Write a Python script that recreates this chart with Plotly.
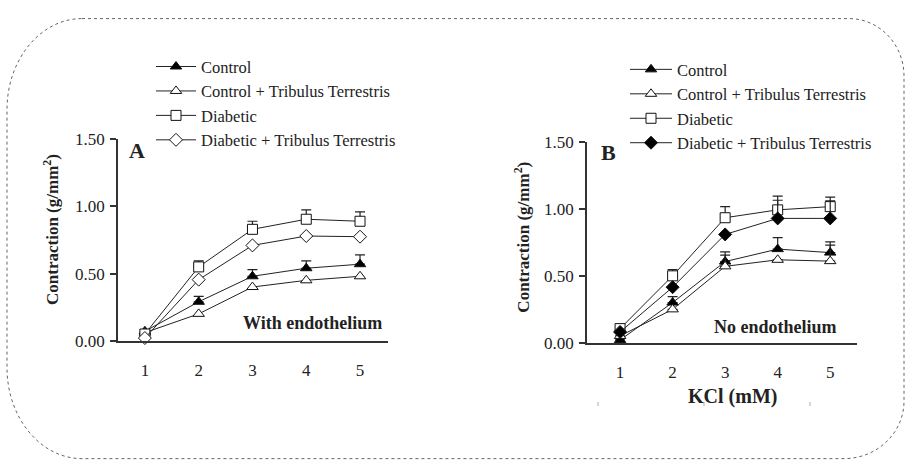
import plotly.graph_objects as go

W, H = 905, 460
FONT = "Liberation Serif"

# ---------------- data ----------------
kcl = [1, 2, 3, 4, 5]
series_names = ["Control", "Control + Tribulus Terrestris", "Diabetic", "Diabetic + Tribulus Terrestris"]

# Panel A: with endothelium
a_control = [0.07, 0.29, 0.48, 0.54, 0.57]
a_control_err = [0.0, 0.04, 0.05, 0.055, 0.07]
a_control_tt = [0.06, 0.20, 0.40, 0.45, 0.48]
a_diabetic = [0.05, 0.55, 0.83, 0.905, 0.89]
a_diabetic_err = [0.0, 0.045, 0.06, 0.07, 0.07]
a_diabetic_tt = [0.02, 0.455, 0.71, 0.78, 0.775]

# Panel B: no endothelium
b_control = [0.02, 0.30, 0.607, 0.70, 0.674]
b_control_err = [0.0, 0.045, 0.072, 0.086, 0.08]
b_control_tt = [0.05, 0.249, 0.571, 0.62, 0.61]
b_control_tt_err = [0.0, 0.0, 0.084, 0.0, 0.12]
b_diabetic = [0.105, 0.50, 0.935, 0.994, 1.018]
b_diabetic_err = [0.0, 0.047, 0.083, 0.103, 0.072]
b_diabetic_tt = [0.08, 0.415, 0.81, 0.93, 0.93]
b_diabetic_tt_err = [0.0, 0.0, 0.0, 0.136, 0.131]

y_ticks = [0.0, 0.5, 1.0, 1.5]
y_tick_text = ["0.00", "0.50", "1.00", "1.50"]


def px(x):
    return x / W


def py(y):
    return 1 - y / H


fig = go.Figure()


def add(x, y, name, symbol, fill, xa, ya, legend, err=None, show=True):
    kw = {}
    if err is not None:
        kw["error_y"] = dict(type="data", symmetric=False, array=err,
                             arrayminus=[0] * len(err), color="#222",
                             thickness=1.2, width=5)
    fig.add_trace(go.Scatter(
        x=x, y=y, name=name, mode="lines+markers",
        line=dict(color="#222", width=1),
        marker=dict(symbol=symbol, size=10, color=fill,
                    line=dict(color="#111", width=1)),
        xaxis=xa, yaxis=ya, legend=legend, showlegend=show,
        cliponaxis=False, **kw))


# Panel A
add(kcl, a_control, series_names[0], "triangle-up", "black", "x", "y", "legend", a_control_err)
add(kcl, a_control_tt, series_names[1], "triangle-up", "white", "x", "y", "legend")
add(kcl, a_diabetic, series_names[2], "square", "white", "x", "y", "legend", a_diabetic_err)
add(kcl, a_diabetic_tt, series_names[3], "diamond", "white", "x", "y", "legend")

# Panel B
add(kcl, b_control, series_names[0], "triangle-up", "black", "x2", "y2", "legend2", b_control_err)
add(kcl, b_control_tt, series_names[1], "triangle-up", "white", "x2", "y2", "legend2", b_control_tt_err)
add(kcl, b_diabetic, series_names[2], "square", "white", "x2", "y2", "legend2", b_diabetic_err)
add(kcl, b_diabetic_tt, series_names[3], "diamond", "black", "x2", "y2", "legend2", b_diabetic_tt_err)

axis_common = dict(showgrid=False, zeroline=False, showline=True,
                   linecolor="#333", linewidth=1.5,
                   tickfont=dict(family=FONT, size=17, color="#222"))

xcommon = dict(axis_common, tickmode="array", tickvals=kcl,
               ticktext=[str(k) for k in kcl], ticks="",
               ticklabelstandoff=13)
ycommon = dict(axis_common, range=[0, 1.5], tickmode="array",
               tickvals=y_ticks, ticktext=y_tick_text, ticks="outside",
               ticklen=6, tickcolor="#333", tickwidth=1.5,
               ticklabelstandoff=2)

LEG_FONT = dict(family=FONT, size=16.5, color="#222")

fig.update_layout(
    width=W, height=H,
    margin=dict(l=0, r=0, t=0, b=0),
    paper_bgcolor="white", plot_bgcolor="white",
    font=dict(family=FONT, color="#222"),
    xaxis=dict(xcommon, domain=[px(118), px(388)], range=[0.5, 5.52], anchor="y"),
    yaxis=dict(ycommon, domain=[py(346), py(136)], anchor="x"),
    xaxis2=dict(xcommon, domain=[px(587), px(857)], range=[0.37, 5.51], anchor="y2"),
    yaxis2=dict(ycommon, domain=[py(348), py(139)], anchor="x2"),
    legend=dict(x=px(151), y=py(42), xanchor="left", yanchor="top",
                bgcolor="rgba(0,0,0,0)", borderwidth=0, font=LEG_FONT,
                itemwidth=40, tracegroupgap=0, traceorder="normal"),
    legend2=dict(x=px(625), y=py(45), xanchor="left", yanchor="top",
                 bgcolor="rgba(0,0,0,0)", borderwidth=0, font=LEG_FONT,
                 itemwidth=42, tracegroupgap=0, traceorder="normal"),
)

ann = []


def text(x, y, t, size, bold=False, angle=0):
    ann.append(dict(x=px(x), y=py(y), xref="paper", yref="paper",
                    text=("<b>%s</b>" % t) if bold else t, showarrow=False,
                    xanchor="center", yanchor="middle", textangle=angle,
                    font=dict(family=FONT, size=size, color="#222")))


text(51, 230.5, "Contraction (g/mm<sup>2</sup>)", 17, True, -90)
text(522, 238.5, "Contraction (g/mm<sup>2</sup>)", 17, True, -90)
text(137, 148, "A", 22, True)
text(608, 150, "B", 22, True)
text(312, 328, "With endothelium", 18, True)
text(775, 332, "No endothelium", 18, True)
text(732, 404, "KCl (mM)", 20, True)
fig.update_layout(annotations=ann)

# dotted rounded frame (elliptical corners, pixel units)
L, R, T, B = 7, 904, 10, 469
tl = (75, 95)
tr = (55, 60)
br = (60, 60)
bl = (75, 95)
K = 0.5523


def P(x, y):
    return "%.5f,%.5f" % (px(x), py(y))


path = (
    "M " + P(L + tl[0], T) + " L " + P(R - tr[0], T) +
    " C " + P(R - tr[0] + K * tr[0], T) + " " + P(R, T + tr[1] - K * tr[1]) + " " + P(R, T + tr[1]) +
    " L " + P(R, B - br[1]) +
    " C " + P(R, B - br[1] + K * br[1]) + " " + P(R - br[0] + K * br[0], B) + " " + P(R - br[0], B) +
    " L " + P(L + bl[0], B) +
    " C " + P(L + bl[0] - K * bl[0], B) + " " + P(L, B - bl[1] + K * bl[1]) + " " + P(L, B - bl[1]) +
    " L " + P(L, T + tl[1]) +
    " C " + P(L, T + tl[1] - K * tl[1]) + " " + P(L + tl[0] - K * tl[0], T) + " " + P(L + tl[0], T) + " Z"
)
shapes = [dict(type="path", path=path, xref="paper", yref="paper",
               line=dict(color="#666", width=1, dash="dot"))]
for mx in (598, 704, 810):
    shapes.append(dict(type="line", xref="paper", yref="paper",
                       x0=px(mx), x1=px(mx), y0=py(410), y1=py(414),
                       line=dict(color="#aaa", width=1)))
fig.update_layout(shapes=shapes)

fig.write_html("out.html")
